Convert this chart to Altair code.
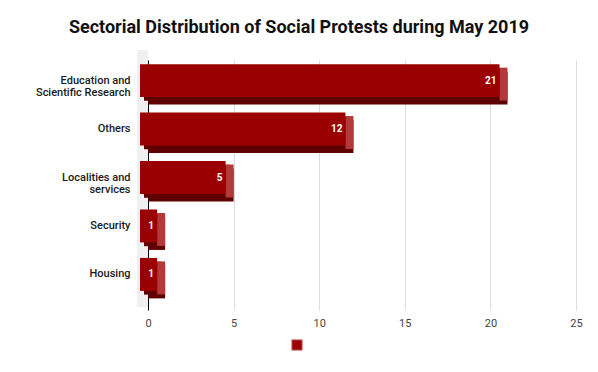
import altair as alt
import pandas as pd

categories = ["Education and|Scientific Research", "Others", "Localities and|services", "Security", "Housing"]
values = [21, 12, 5, 1, 1]
series = ["", "", "", "", ""]

df = pd.DataFrame({"cat": categories, "value": values, "series": series})

W, H = 428, 250

y_enc = alt.Y("cat:N", sort=categories, title=None,
              scale=alt.Scale(paddingInner=0.32, paddingOuter=0.24),
              axis=alt.Axis(labelExpr="split(datum.label, '|')", labelFont="Roboto",
                            labelFontSize=11, labelFontWeight=500, labelColor="#1a1a1a",
                            labelPadding=18, ticks=False, domainColor="#000",
                            domainWidth=1, labelLineHeight=12, labelOffset=-7.5))
x_enc = alt.X("value:Q", title=None,
              scale=alt.Scale(domain=[0, 25], nice=False),
              axis=alt.Axis(values=[0, 5, 10, 15, 20, 25], grid=True, gridColor="#dcdcdc",
                            domain=False, ticks=False, labelPadding=7, labelFont="Roboto",
                            labelFontSize=11, labelColor="#444", labelFlush=False))

base = alt.Chart(df)
ycat = alt.Y("cat:N", sort=categories)

wall = alt.Chart(pd.DataFrame({"a": [0]})).mark_rect(color="#f0f0f0", xOffset=-11).encode(
    x=alt.datum(0, scale=alt.Scale(domain=[0, 25], nice=False)), x2=alt.datum(0),
    y=alt.value(-10), y2=alt.value(H - 3))

back = base.mark_bar(color="#5e0000").encode(x=x_enc, y=y_enc)
mid = base.mark_bar(color="#5e0000", xOffset=-4, x2Offset=-4, yOffset=-3.75).encode(
    x="value:Q", y=ycat)
side = base.mark_bar(color="#b33a3a", xOffset=-8, yOffset=-4).encode(
    x="value:Q", x2="value:Q", y=ycat)
front = base.mark_bar(xOffset=-8, x2Offset=-8, yOffset=-7.5).encode(
    x="value:Q", y=ycat,
    color=alt.Color("series:N", scale=alt.Scale(range=["#9b0000"]),
                    legend=alt.Legend(title=None, orient="none", legendX=143, legendY=279,
                                      symbolType="square", symbolSize=110,
                                      symbolStrokeColor="#d98a8a", symbolStrokeWidth=1,
                                      labelFontSize=1, padding=0)))
labels = base.mark_text(align="right", baseline="middle", dx=-11, dy=-7.5, color="white",
                        font="Roboto", fontSize=10, fontWeight="bold").encode(
    x="value:Q", y=ycat, text="value:Q")

chart = alt.layer(wall, back, mid, side, front, labels).properties(
    width=W, height=H,
    title=alt.TitleParams("Sectorial Distribution of Social Protests during May 2019",
                          font="Roboto", fontSize=18, fontWeight="bold", color="#111",
                          anchor="middle", dx=-63, dy=19, offset=14, baseline="bottom"),
    autosize=alt.AutoSizeParams(type="none"),
    padding={"left": 140, "top": 52, "right": 14, "bottom": 54},
).configure_view(stroke=None)

chart.save("out.html", embed_options={"renderer": "svg", "actions": False})
